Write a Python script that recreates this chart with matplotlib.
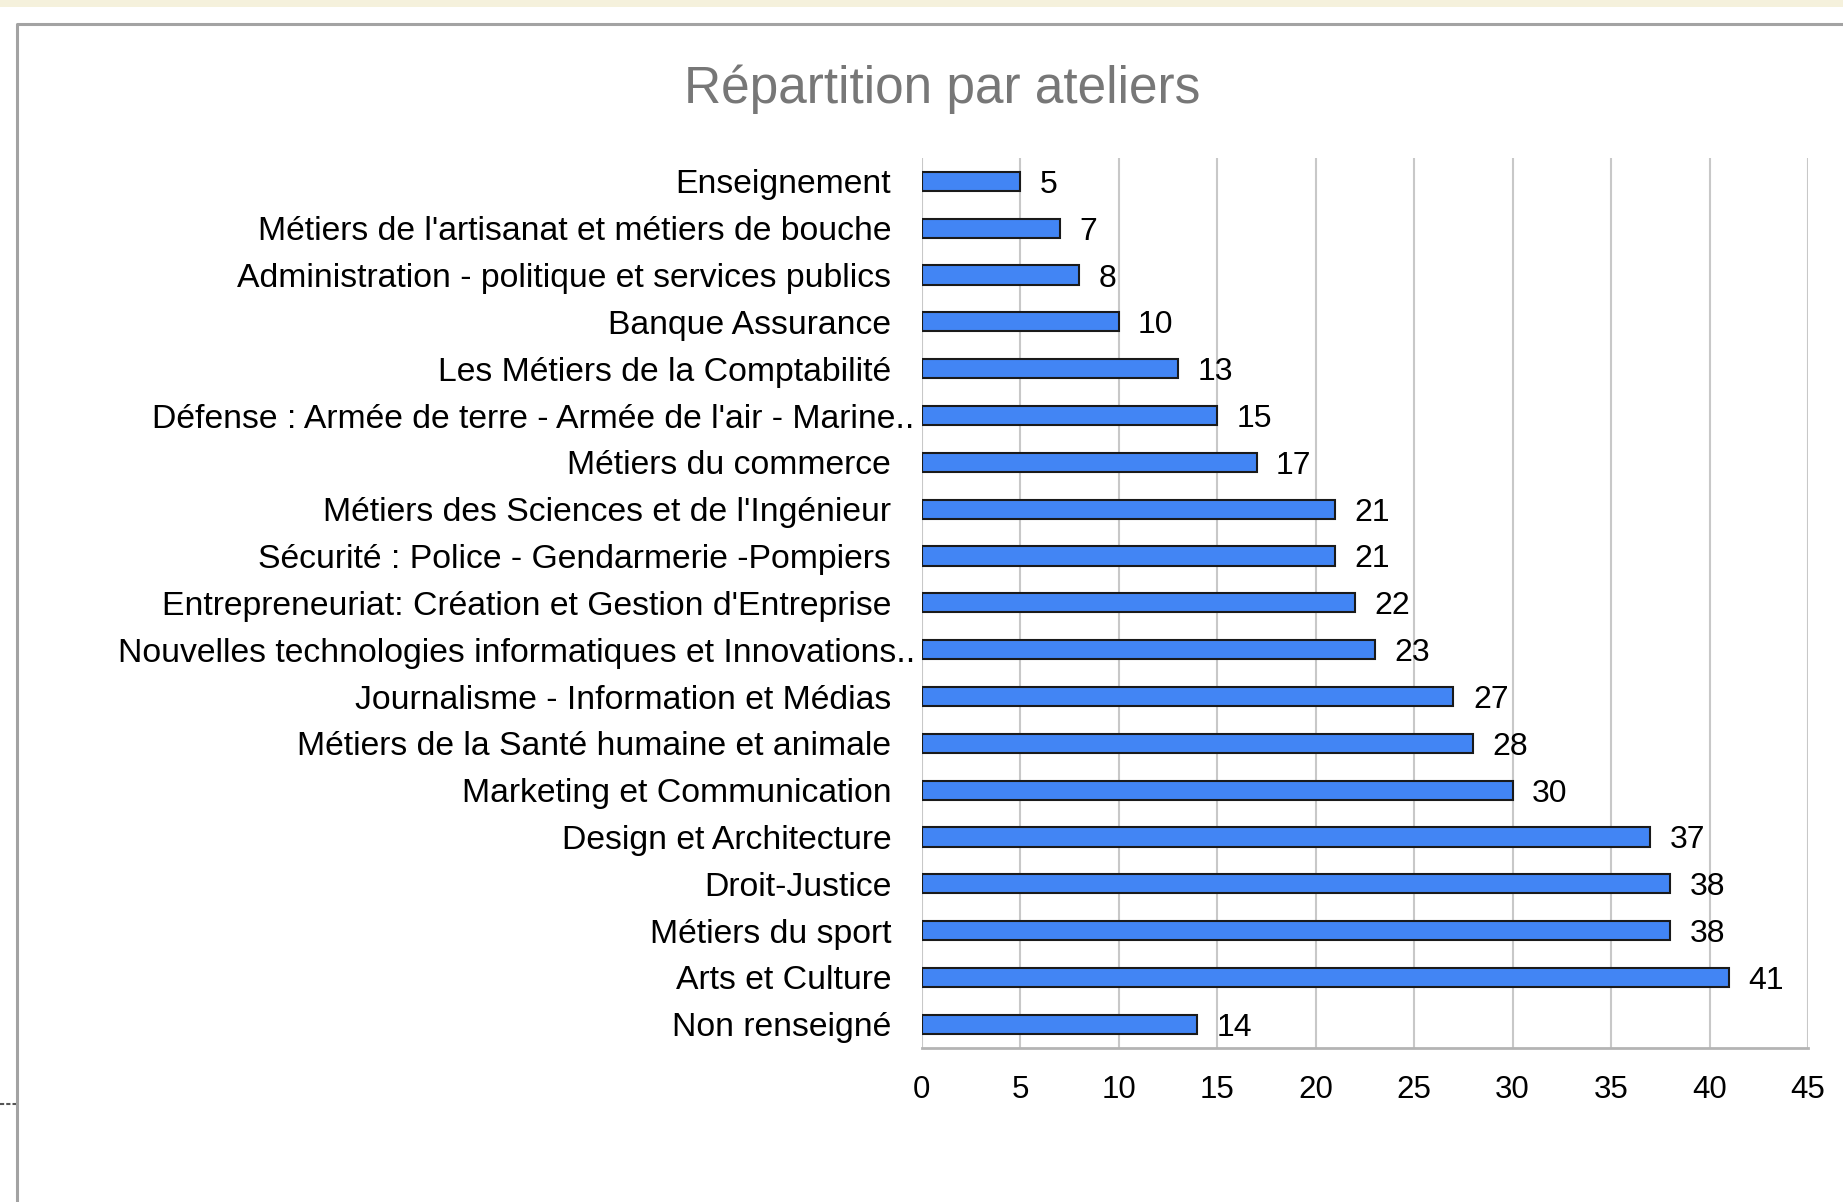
import matplotlib
matplotlib.use("Agg")
from matplotlib import pyplot as plt
from matplotlib.patches import Rectangle
from matplotlib.lines import Line2D
from matplotlib.transforms import ScaledTranslation

plt.rcParams['font.family'] = ['Liberation Sans', 'DejaVu Sans']

# data, top to bottom
ateliers = [
    "Enseignement",
    "Métiers de l'artisanat et métiers de bouche",
    "Administration - politique et services publics",
    "Banque Assurance",
    "Les Métiers de la Comptabilité",
    "Défense : Armée de terre - Armée de l'air - Marine..",
    "Métiers du commerce",
    "Métiers des Sciences et de l'Ingénieur",
    "Sécurité : Police - Gendarmerie -Pompiers",
    "Entrepreneuriat: Création et Gestion d'Entreprise",
    "Nouvelles technologies informatiques et Innovations..",
    "Journalisme - Information et Médias",
    "Métiers de la Santé humaine et animale",
    "Marketing et Communication",
    "Design et Architecture",
    "Droit-Justice",
    "Métiers du sport",
    "Arts et Culture",
    "Non renseigné",
]
effectifs = [5, 7, 8, 10, 13, 15, 17, 21, 21, 22, 23, 27, 28, 30, 37, 38, 38, 41, 14]
x_ticks = [0, 5, 10, 15, 20, 25, 30, 35, 40, 45]

fig = plt.figure(figsize=(18.43, 12.02), dpi=100)

# page decoration: beige strip on top, grey frame, little dashed mark
fig.patches.append(Rectangle((0, 1 - 7 / 1202), 1, 7 / 1202, transform=fig.transFigure,
                             facecolor='#f5f1dc', edgecolor='none'))
fig.lines.append(Line2D([17 / 1843, 17 / 1843, 1], [0, 1 - 24 / 1202, 1 - 24 / 1202],
                        transform=fig.transFigure, color='#a3a3a3', lw=2.2))
fig.lines.append(Line2D([0, 16 / 1843], [1 - 1104 / 1202] * 2, transform=fig.transFigure,
                        color='#555555', lw=1.5, ls=(0, (2, 1))))

ax = fig.add_axes([921.7 / 1843, 1 - 1047.7 / 1202, (1808 - 921.7) / 1843, (1047.7 - 158) / 1202])

pos = list(range(len(ateliers)))
ax.barh(pos, effectifs, height=0.41, color='#4285f4', edgecolor='#1a1a1a', linewidth=1.5, zorder=3)
for p, v in zip(pos, effectifs):
    ax.annotate(str(v), (v, p), xytext=(14, -2.5), textcoords='offset points',
                ha='left', va='center', fontsize=23, color='black')

ax.set_xlim(0, 45)
ax.set_ylim(len(ateliers) - 0.5, -0.5)
ax.set_xticks(x_ticks)
ax.set_yticks(pos)
ax.set_yticklabels(ateliers, fontsize=24.3)
ax.tick_params(axis='y', length=0, pad=22)
ax.tick_params(axis='x', length=0, pad=20, labelsize=22.5)

# the labels cut with ".." stick out past the others
for lab in ax.get_yticklabels():
    if lab.get_text().endswith('..'):
        lab.set_transform(lab.get_transform() + ScaledTranslation(17 / 72, 0, fig.dpi_scale_trans))

ax.grid(axis='x', color='#c8c8c8', lw=1.5, zorder=0)
for s in ['top', 'right', 'left']:
    ax.spines[s].set_visible(False)
ax.spines['bottom'].set_color('#b4b4b4')
ax.spines['bottom'].set_linewidth(2)

fig.text(942 / 1843, 1 - 89 / 1202, "Répartition par ateliers", fontsize=37, color='#777777',
         ha='center', va='center')

fig.savefig("out.png", dpi=100)
